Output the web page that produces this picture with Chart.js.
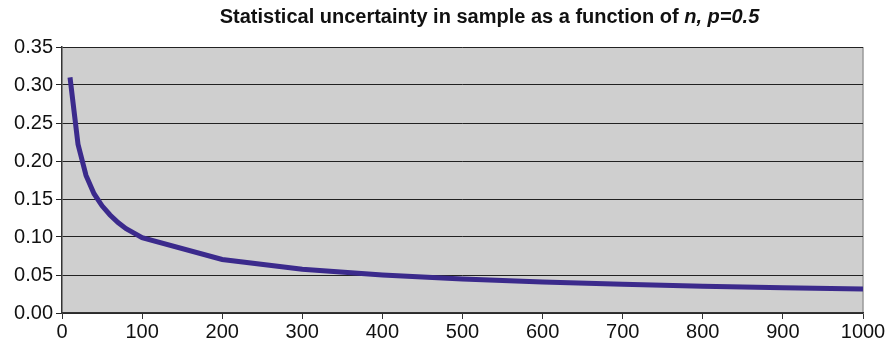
<!DOCTYPE html>
<html>
<head>
<meta charset="utf-8">
<script src="https://cdn.jsdelivr.net/npm/chart.js@4.4.0/dist/chart.umd.min.js"></script>
<style>
  body { margin: 0; background: #fff; }
  #wrap { position: relative; width: 893px; height: 347px; }
  #title {
    position: absolute; top: 5px; left: 0; width: 893px; padding-left: 86px; box-sizing: border-box;
    text-align: center; font-family: "Liberation Sans", Arial, sans-serif; font-weight: bold; font-size: 20px; color: #111;
  }
</style>
</head>
<body>
<div id="wrap">
  <div id="title">Statistical uncertainty in sample as a function of <i>n, p=0.5</i></div>
  <canvas id="chart" width="893" height="347"></canvas>
</div>
<script>
  // sample sizes and the uncertainty
  const sampleSizes = [10, 20, 30, 40, 50, 60, 70, 80, 90, 100, 200, 300, 400, 500, 600, 700, 800, 900, 1000];
  const uncertainty = [0.31, 0.222, 0.181, 0.157, 0.141, 0.129, 0.119, 0.111, 0.105, 0.099, 0.0705, 0.0577, 0.05, 0.0446, 0.0408, 0.0378, 0.0353, 0.0333, 0.0316];
  const yTicks = [0, 0.05, 0.10, 0.15, 0.20, 0.25, 0.30, 0.35];
  const xTicks = [0, 100, 200, 300, 400, 500, 600, 700, 800, 900, 1000];

  const plotBg = {
    id: 'plotBg',
    beforeDraw(chart) {
      const { ctx, chartArea: a } = chart;
      ctx.save();
      ctx.fillStyle = '#cfcfcf';
      ctx.fillRect(a.left, a.top, a.right - a.left, a.bottom - a.top);
      ctx.strokeStyle = '#9a9a9a';
      ctx.lineWidth = 1.5;
      ctx.beginPath();
      ctx.moveTo(a.right, a.top);
      ctx.lineTo(a.right, a.bottom);
      ctx.stroke();
      ctx.restore();
    }
  };

  const points = sampleSizes.map((n, i) => ({ x: n, y: uncertainty[i] }));

  new Chart(document.getElementById('chart').getContext('2d'), {
    type: 'line',
    data: {
      datasets: [{
        data: points,
        borderColor: '#3b2a8c',
        borderWidth: 5,
        pointRadius: 0,
        tension: 0,
        fill: false,
        borderCapStyle: 'butt'
      }]
    },
    options: {
      responsive: false,
      animation: false,
      layout: { padding: { top: 47, right: 30, left: 0, bottom: 0 } },
      plugins: { legend: { display: false }, title: { display: false }, tooltip: { enabled: false } },
      scales: {
        x: {
          type: 'linear',
          min: 0,
          max: 1000,
          afterBuildTicks(scale) { scale.ticks = xTicks.map(v => ({ value: v })); },
          afterFit(scale) { scale.height = 34; },
          grid: { drawOnChartArea: false, drawTicks: true, tickLength: 6, color: '#333', lineWidth: 1 },
          border: { color: '#333', width: 1.5 },
          ticks: {
            color: '#111',
            padding: 1,
            maxRotation: 0,
            font: { family: '"Liberation Sans", Arial, sans-serif', size: 20 },
            callback: v => String(v)
          }
        },
        y: {
          min: 0,
          max: 0.35,
          afterBuildTicks(scale) { scale.ticks = yTicks.map(v => ({ value: v })); },
          afterFit(scale) { scale.width = 62; },
          grid: { color: '#222', lineWidth: 1, tickLength: 6, drawTicks: true },
          border: { color: '#333', width: 1.5 },
          ticks: {
            color: '#111',
            padding: 3,
            font: { family: '"Liberation Sans", Arial, sans-serif', size: 20 },
            callback: v => v.toFixed(2)
          }
        }
      }
    },
    plugins: [plotBg]
  });
</script>
</body>
</html>
